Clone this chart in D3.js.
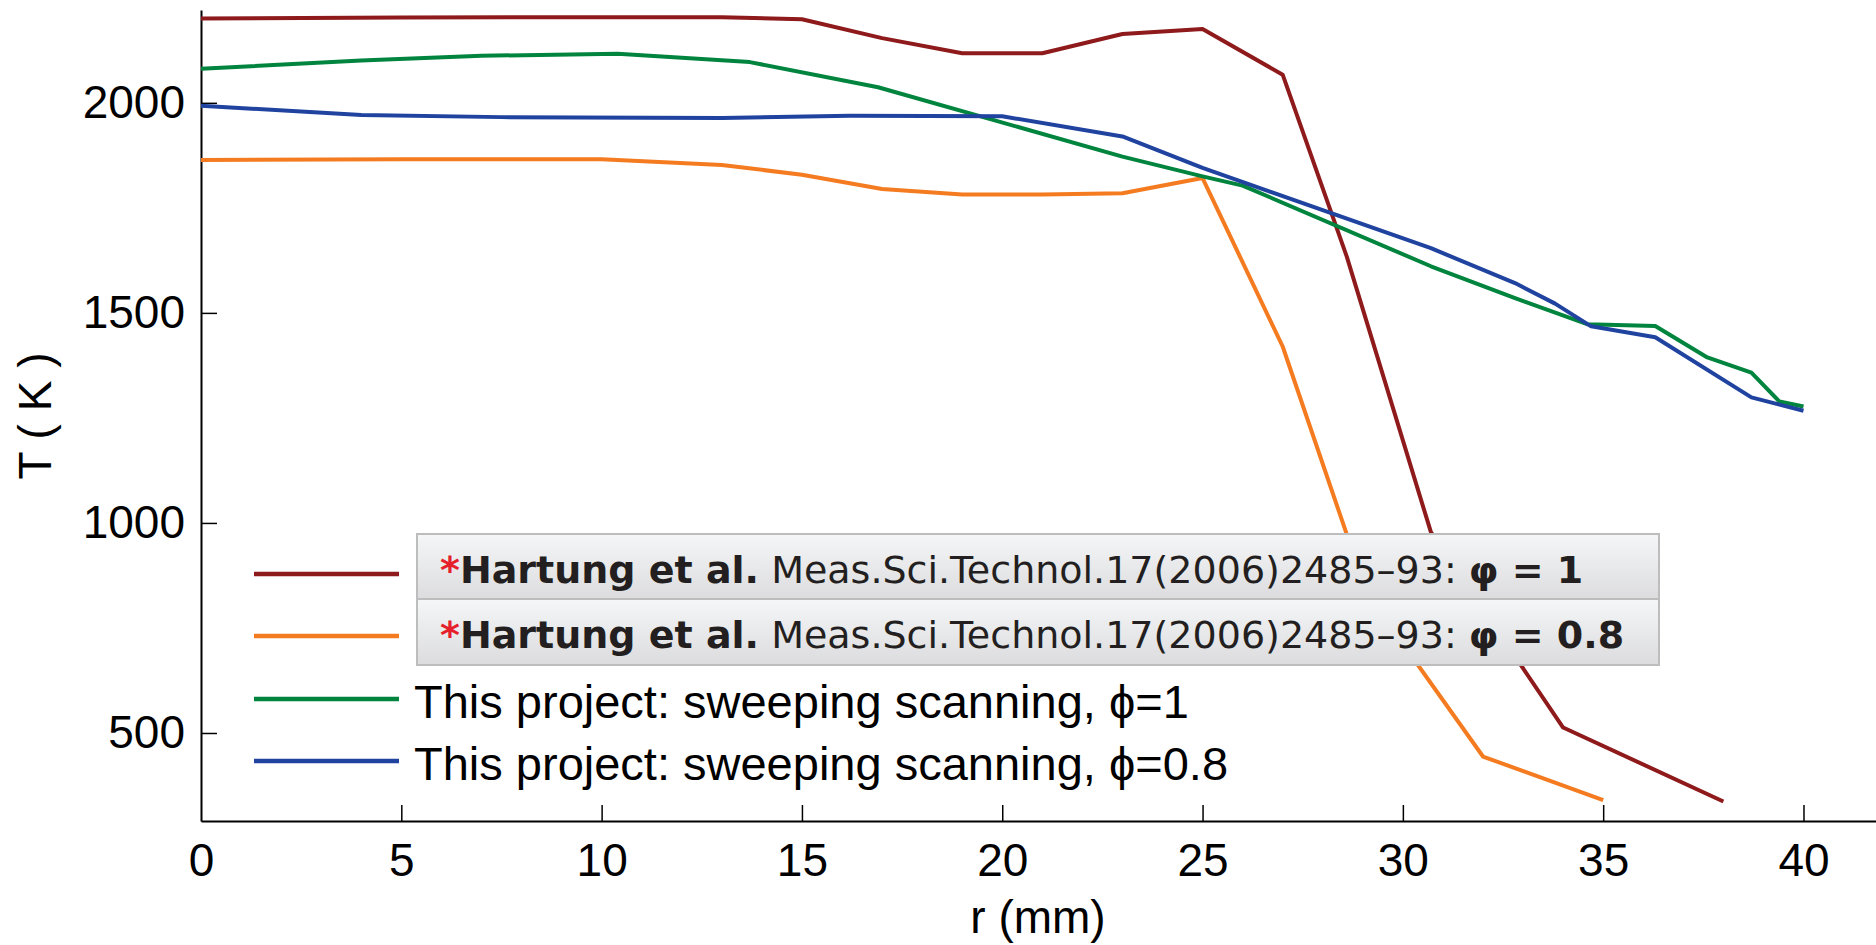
<!DOCTYPE html>
<html>
<head>
<meta charset="utf-8">
<script src="https://cdn.jsdelivr.net/npm/d3@7"></script>
<style>
  body { margin: 0; background: #fff; }
  svg { display: block; }
  text { font-family: "Liberation Sans", Arial, sans-serif; }
</style>
</head>
<body>
<div class="chart"></div>
<script>
// data: r in mm, T in K
var rRed = [0, 5, 10, 13, 15, 17, 19, 21, 23, 25, 27, 28.6, 30.7, 34, 38];
var tRed = [2201, 2203, 2204, 2204, 2199, 2154, 2118, 2118, 2164, 2176, 2067, 1634, 978, 513, 337];

var rOrange = [0, 5, 10, 13, 15, 17, 19, 21, 23, 25, 27, 29.1, 32, 35];
var tOrange = [1864, 1866, 1866, 1852, 1829, 1795, 1782, 1782, 1785, 1821, 1420, 833, 444, 340];

var rGreen = [0, 4, 7, 10.4, 13.7, 16.9, 23, 25, 26, 30.7, 32.8, 34.6, 36.3, 37.6, 38.7, 39.4, 40];
var tGreen = [2081, 2101, 2112, 2117, 2097, 2037, 1872, 1825, 1803, 1611, 1535, 1473, 1469, 1394, 1358, 1289, 1277];

var rBlue = [0, 4, 7.5, 13, 16.2, 20, 23, 25, 30.7, 32.8, 33.8, 34.7, 36.3, 38.7, 40];
var tBlue = [1993, 1971, 1966, 1964, 1969, 1968, 1920, 1845, 1654, 1571, 1522, 1468, 1442, 1299, 1267];

var xTicks = [0, 5, 10, 15, 20, 25, 30, 35, 40];
var yTicks = [500, 1000, 1500, 2000];

var paperLabels = ["φ = 1", "φ = 0.8"];
var projectLabels = ["This project: sweeping scanning, ϕ=1", "This project: sweeping scanning, ϕ=0.8"];

var svgWidth = 1876;
var svgHeight = 945;

var svg = d3.select(".chart").append("svg")
    .attr("width", svgWidth).attr("height", svgHeight);

var xScale = d3.scaleLinear().domain([0, 41.81]).range([201, 1876]);
var yScale = d3.scaleLinear().domain([290.5, 2221]).range([821, 10]);

var series = [
    {r: rRed, t: tRed, color: "#8e1a1b"},
    {r: rOrange, t: tOrange, color: "#f47b20"},
    {r: rGreen, t: tGreen, color: "#00843e"},
    {r: rBlue, t: tBlue, color: "#2043a0"}
];

// axes
var xAxis = d3.axisBottom(xScale).tickValues(xTicks)
    .tickSizeInner(-16).tickSizeOuter(0).tickPadding(22);
var yAxis = d3.axisLeft(yScale).tickValues(yTicks).tickFormat(d3.format("d"))
    .tickSizeInner(-16).tickSizeOuter(0).tickPadding(16);

var gx = svg.append("g").attr("transform", "translate(0,821)").call(xAxis);
var gy = svg.append("g").attr("transform", "translate(201,0)").call(yAxis);

[gx, gy].forEach(function(g) {
    g.select(".domain").attr("stroke", "#000").attr("stroke-width", 2);
    g.selectAll(".tick line").attr("stroke", "#000").attr("stroke-width", 1.5);
    g.selectAll(".tick text").attr("font-size", "46px").attr("fill", "#000")
        .attr("font-family", "'Liberation Sans', Arial, sans-serif");
});
gx.selectAll(".tick").filter(function(d) { return d === 0; }).select("line").remove();

// axis titles
svg.append("text")
    .attr("x", 1038).attr("y", 933)
    .attr("text-anchor", "middle")
    .attr("font-size", "46px")
    .text("r (mm)");

svg.append("text")
    .attr("transform", "translate(51,416) rotate(-90)")
    .attr("text-anchor", "middle")
    .attr("font-size", "46px")
    .text("T ( K )");

// lines
var line = d3.line()
    .x(function(d) { return xScale(d[0]); })
    .y(function(d) { return yScale(d[1]); });

series.forEach(function(s) {
    var pts = s.r.map(function(r, i) { return [r, s.t[i]]; });
    svg.append("path")
        .datum(pts)
        .attr("fill", "none")
        .attr("stroke", s.color)
        .attr("stroke-width", 4)
        .attr("stroke-linejoin", "round")
        .attr("d", line);
});

// legend
var rowY = [574, 636, 699, 761];
series.forEach(function(s, i) {
    svg.append("line")
        .attr("x1", 254).attr("x2", 399)
        .attr("y1", rowY[i]).attr("y2", rowY[i])
        .attr("stroke", s.color).attr("stroke-width", 4.5);
});

var defs = svg.append("defs");
var grad = defs.append("linearGradient").attr("id", "boxfill")
    .attr("x1", 0).attr("y1", 0).attr("x2", 0).attr("y2", 1);
grad.append("stop").attr("offset", "0%").attr("stop-color", "#f5f6f8");
grad.append("stop").attr("offset", "100%").attr("stop-color", "#dcdcde");

var boxTop = [534, 599];
boxTop.forEach(function(top, i) {
    svg.append("rect")
        .attr("x", 417).attr("y", top)
        .attr("width", 1242).attr("height", 66)
        .attr("fill", "url(#boxfill)")
        .attr("stroke", "#bdbdbd").attr("stroke-width", 2);

    var t = svg.append("text")
        .attr("x", 440).attr("y", top + 49)
        .attr("font-size", "38px")
        .attr("fill", "#231f20")
        .style("font-family", "'DejaVu Sans', sans-serif");
    t.append("tspan").attr("fill", "#e5202a").attr("font-weight", "bold").text("*");
    t.append("tspan").attr("font-weight", "bold").text("Hartung et al.");
    t.append("tspan").text(" Meas.Sci.Technol.17(2006)2485–93: ");
    t.append("tspan").attr("font-weight", "bold").text(paperLabels[i]);
});

projectLabels.forEach(function(label, i) {
    svg.append("text")
        .attr("x", 414).attr("y", rowY[i + 2] + 19)
        .attr("font-size", "47px")
        .attr("fill", "#000")
        .text(label);
});
</script>
</body>
</html>
